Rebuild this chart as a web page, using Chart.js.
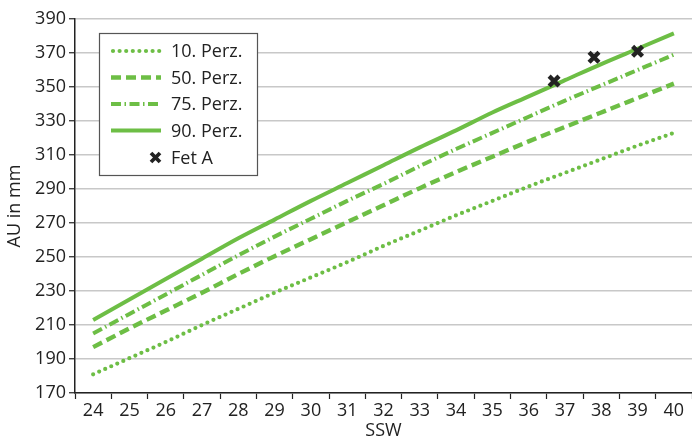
<!DOCTYPE html>
<html>
<head>
<meta charset="utf-8">
<script src="https://cdn.jsdelivr.net/npm/chart.js@4.4.1/dist/chart.umd.min.js"></script>
<style>
  html, body { margin: 0; padding: 0; background: #fff; }
  #wrap { width: 692px; height: 442px; }
</style>
</head>
<body>
<div id="wrap"><canvas id="c" width="692" height="442"></canvas></div>
<script>
// Gestational weeks (SSW) and abdominal circumference percentiles (mm)
const weeks = [24, 25, 26, 27, 28, 29, 30, 31, 32, 33, 34, 35, 36, 37, 38, 39, 40];
const p10 = [181, 190.5, 200, 210, 219.5, 229, 238, 247, 256.5, 265.5, 274.5, 283, 291.5, 299.5, 307.5, 315.5, 323];
const p50 = [197, 208, 218.5, 229, 240, 250.5, 260.5, 270.5, 280.5, 290.5, 300, 309, 318, 326.5, 335, 343.5, 352];
const p75 = [205, 216.5, 228, 239.5, 251, 262, 272.5, 283, 293, 303.5, 313.5, 323, 332.5, 342, 351, 360, 369];
const p90 = [213, 225, 237, 249, 261, 272, 283, 293.5, 304, 314.5, 324.5, 335, 344.5, 354, 363.5, 372.5, 381.5];

// Measurements of fetus A
const fetWeeks = [36.7, 37.8, 39.0];
const fetValues = [353.5, 367.5, 371];

const yTicks = [170, 190, 210, 230, 250, 270, 290, 310, 330, 350, 370, 390];

const GREEN = '#6dbe45';
const INK = '#222222';
const FONT = 'Open Sans';

const pts = (xs, ys) => xs.map((x, i) => ({ x: x, y: ys[i] }));

const lineSet = (label, values, dash, cap, width) => ({
  label: label,
  data: pts(weeks, values),
  borderColor: GREEN,
  backgroundColor: GREEN,
  borderWidth: width,
  borderDash: dash,
  borderCapStyle: cap,
  pointRadius: 0,
  cubicInterpolationMode: 'monotone',
  fill: false
});

const datasets = [
  {
    label: 'Fet A',
    data: pts(fetWeeks, fetValues),
    showLine: false,
    pointStyle: 'crossRot',
    pointRadius: 7,
    pointBorderWidth: 4.4,
    borderColor: INK,
    backgroundColor: INK,
    order: -1
  },
  lineSet('10. Perz.', p10, [0, 6.6], 'round', 4.2),
  lineSet('50. Perz.', p50, [10, 5], 'butt', 4.4),
  lineSet('75. Perz.', p75, [10, 3.5, 1.5, 3.5], 'butt', 4),
  lineSet('90. Perz.', p90, [], 'butt', 4)
];

// Boxed legend drawn inside the plot area
const boxLegend = {
  id: 'boxLegend',
  afterDatasetsDraw(chart) {
    const ctx = chart.ctx;
    const x0 = 99.5, y0 = 33.5, w = 158, h = 142;
    ctx.save();
    ctx.fillStyle = '#ffffff';
    ctx.fillRect(x0, y0, w, h);
    ctx.strokeStyle = '#555555';
    ctx.lineWidth = 1.2;
    ctx.strokeRect(x0, y0, w, h);

    const order = ['10. Perz.', '50. Perz.', '75. Perz.', '90. Perz.', 'Fet A'];
    const rowY = [51, 77.5, 104, 130.5, 157.5];
    ctx.font = '18px "' + FONT + '"';
    ctx.textBaseline = 'middle';
    order.forEach((name, i) => {
      const ds = chart.data.datasets.find(d => d.label === name);
      const y = rowY[i];
      if (ds.showLine === false) {
        const r = 4.5, cx = 155.5;
        ctx.strokeStyle = ds.borderColor;
        ctx.lineWidth = 3.8;
        ctx.lineCap = 'butt';
        ctx.beginPath();
        ctx.moveTo(cx - r, y - r); ctx.lineTo(cx + r, y + r);
        ctx.moveTo(cx - r, y + r); ctx.lineTo(cx + r, y - r);
        ctx.stroke();
      } else {
        ctx.strokeStyle = ds.borderColor;
        ctx.lineWidth = ds.borderWidth;
        ctx.lineCap = ds.borderCapStyle;
        ctx.setLineDash(ds.borderDash);
        ctx.beginPath();
        ctx.moveTo(ds.borderCapStyle === 'round' ? 113 : 111, y);
        ctx.lineTo(161, y);
        ctx.stroke();
        ctx.setLineDash([]);
      }
      ctx.fillStyle = INK;
      ctx.fillText(name, 171, y + 1);
    });
    ctx.restore();
  }
};

new Chart(document.getElementById('c'), {
  type: 'line',
  data: { datasets: datasets },
  plugins: [boxLegend],
  options: {
    responsive: false,
    animation: false,
    layout: { autoPadding: false, padding: { top: 19, right: 0, left: 0, bottom: 0 } },
    plugins: {
      legend: { display: false },
      tooltip: { enabled: false }
    },
    scales: {
      x: {
        type: 'linear',
        min: 23.5,
        max: 40.5,
        afterBuildTicks(scale) { scale.ticks = weeks.map(v => ({ value: v })); },
        afterFit(scale) { scale.height = 49; scale.paddingLeft = 0; scale.paddingRight = 0; },
        ticks: {
          color: INK,
          font: { family: FONT, size: 18 },
          padding: 1,
          maxRotation: 0,
          autoSkip: false
        },
        grid: {
          offset: true,
          drawOnChartArea: false,
          drawTicks: true,
          tickLength: 6,
          tickColor: INK,
          tickWidth: 1.2
        },
        border: { display: true, color: INK, width: 1.5 },
        title: {
          display: true,
          text: 'SSW',
          color: INK,
          font: { family: FONT, size: 18 },
          padding: { top: 0, bottom: 0 }
        }
      },
      y: {
        min: 170,
        max: 390,
        afterBuildTicks(scale) { scale.ticks = yTicks.map(v => ({ value: v })); },
        afterFit(scale) { scale.width = 75; scale.paddingTop = 0; scale.paddingBottom = 0; },
        ticks: {
          color: INK,
          font: { family: FONT, size: 18 },
          padding: 3
        },
        grid: {
          color: '#c8c8c8',
          lineWidth: 1.5,
          tickLength: 6,
          tickColor: INK,
          tickWidth: 1.2
        },
        border: { display: true, color: INK, width: 1.5 },
        title: {
          display: true,
          text: 'AU in mm',
          color: INK,
          font: { family: FONT, size: 18 },
          padding: { top: 4, bottom: 0 }
        }
      }
    }
  }
});
</script>
</body>
</html>
